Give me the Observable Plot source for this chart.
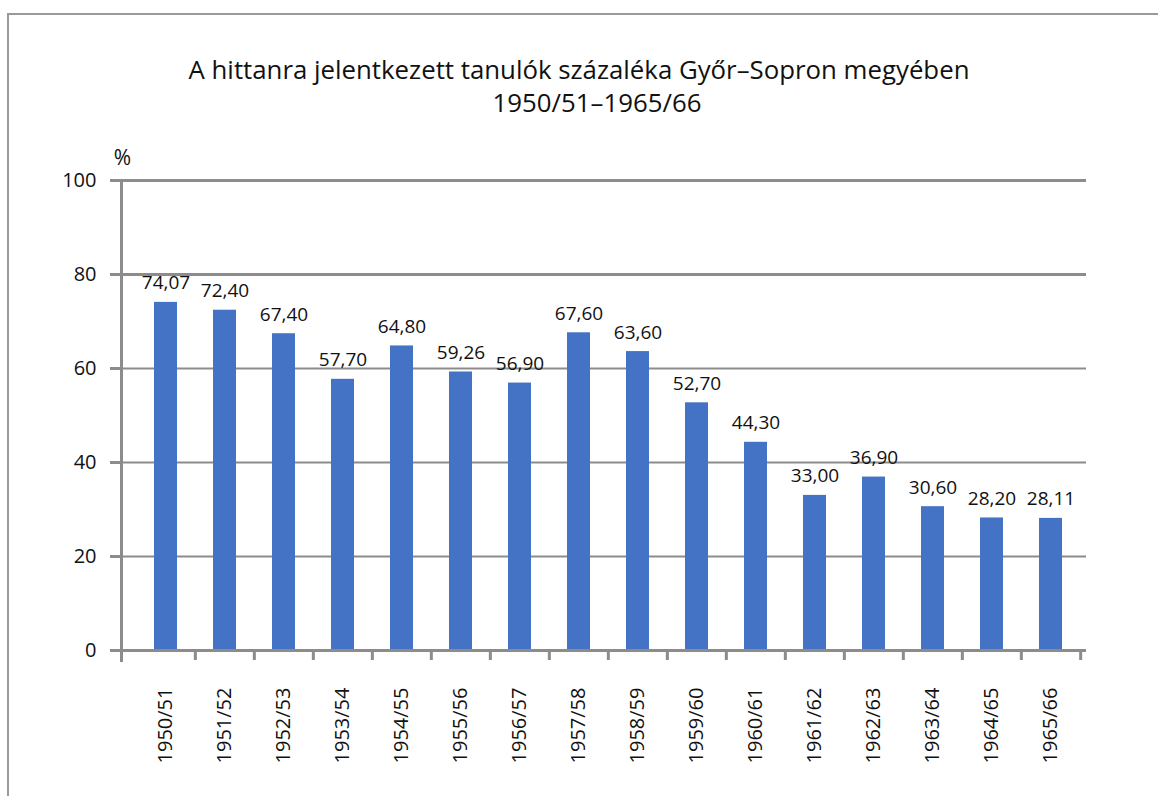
<!DOCTYPE html>
<html>
<head>
<meta charset="utf-8">
<script src="https://cdn.jsdelivr.net/npm/d3@7"></script>
<script src="https://cdn.jsdelivr.net/npm/@observablehq/plot@0.6"></script>
<style>
  html, body { margin: 0; padding: 0; background: #fff; width: 1158px; height: 796px; overflow: hidden; }
  #border { position: absolute; left: 7px; top: 13px; width: 1160px; height: 800px; border: 2px solid #9a9a9a; box-sizing: border-box; }
  #title { position: absolute; left: 0; top: 53px; width: 1158px; text-align: center; font-family: "Open Sans", sans-serif; font-size: 25.8px; line-height: 33px; color: #111; }
  #title div + div { padding-left: 36px; }
  #chart { position: absolute; left: 0; top: 140px; }
</style>
</head>
<body>
<div id="border"></div>
<div id="title"></div>
<div id="chart"></div>
<script>
const titleLines = ["A hittanra jelentkezett tanulók százaléka Győr–Sopron megyében", "1950/51–1965/66"];
const yUnit = "%";
const categories = ["1950/51","1951/52","1952/53","1953/54","1954/55","1955/56","1956/57","1957/58","1958/59","1959/60","1960/61","1961/62","1962/63","1963/64","1964/65","1965/66"];
const values = [74.07,72.40,67.40,57.70,64.80,59.26,56.90,67.60,63.60,52.70,44.30,33.00,36.90,30.60,28.20,28.11];
const yTicks = [0,20,40,60,80,100];

document.getElementById("title").innerHTML = titleLines.map(t => `<div>${t}</div>`).join("");

const data = categories.map((c, i) => ({category: c, value: values[i]}));
const fmt = v => d3.format(".2f")(v).replace(".", ",");

const W = 1158, H = 656, mL = 121, mR = 72, mT = 40, mB = 146, inL = 13, inR = 3;
const step = (W - mL - mR - inL - inR) / categories.length;
const grid = "#8c8c8c";

const chart = Plot.plot({
  width: W, height: H,
  marginLeft: mL, marginRight: mR, marginTop: mT, marginBottom: mB,
  insetLeft: inL, insetRight: inR,
  style: {fontFamily: "'Open Sans', sans-serif", color: "#111", background: "transparent"},
  x: {domain: categories, paddingInner: 0.61, paddingOuter: 0.305},
  y: {domain: [0, 100]},
  marks: [
    Plot.ruleY(yTicks.filter(d => d > 0), {y: d => d, stroke: grid, strokeWidth: d => d >= 80 ? 3 : 2}),
    Plot.barY(data, {x: "category", y: "value", fill: "#4472C4"}),
    Plot.ruleY([0], {stroke: grid, strokeWidth: 3}),
    Plot.frame({anchor: "left", stroke: grid, strokeWidth: 3, insetBottom: -10}),
    Plot.ruleX(categories.slice(1), {x: d => d, y1: 0, y2: 0, insetBottom: -10, dx: -step / 2, stroke: grid, strokeWidth: 3}),
    Plot.ruleX(categories.slice(-1), {x: d => d, y1: 0, y2: 0, insetBottom: -10, dx: step / 2, stroke: grid, strokeWidth: 3}),
    Plot.axisY({ticks: yTicks, tickSize: 11, tickPadding: 14, fontSize: 20, label: null, stroke: grid, strokeWidth: 3, strokeOpacity: 1}),
    Plot.axisX({tickSize: 0, tickRotate: -90, tickPadding: 37, fontSize: 20, label: null}),
    Plot.text(data, {x: "category", y: "value", text: d => fmt(d.value), dy: -13, lineAnchor: "bottom", fontSize: 19, fill: "#111"}),
    Plot.text([yUnit], {frameAnchor: "top-left", text: d => d, dy: -22, dx: 1, textAnchor: "middle", lineAnchor: "middle", fontSize: 21, fill: "#111"})
  ]
});
document.getElementById("chart").appendChild(chart);
</script>
</body>
</html>
